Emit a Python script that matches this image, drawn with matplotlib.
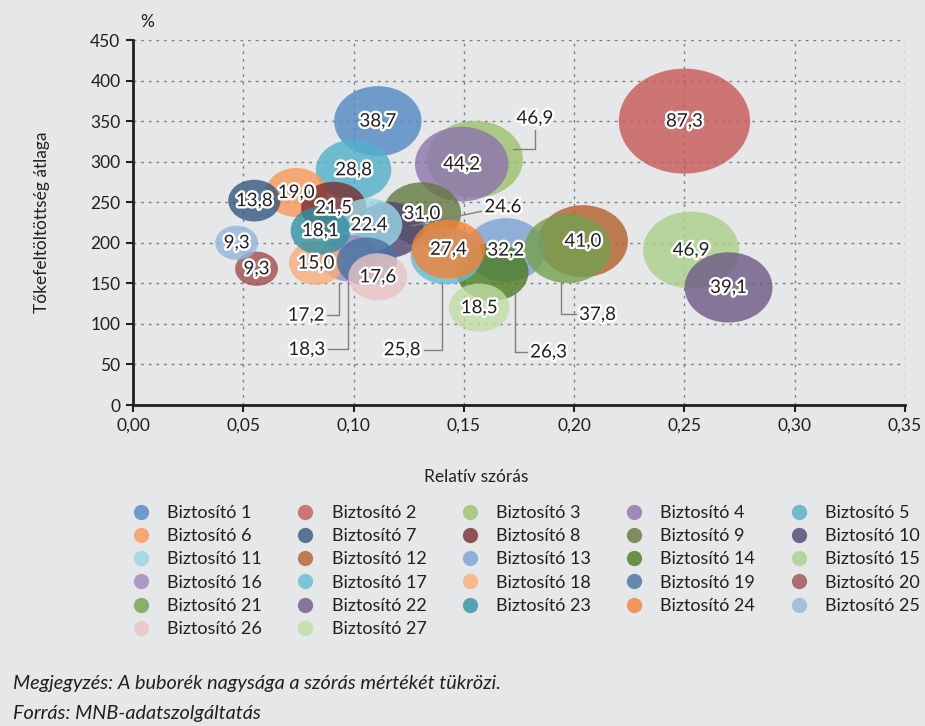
import matplotlib
matplotlib.use("Agg")
import matplotlib.pyplot as plt
import matplotlib.patheffects as pe
import matplotlib.transforms as mtransforms
from matplotlib.colors import to_rgb
from matplotlib.lines import Line2D
from matplotlib.patches import Ellipse
import numpy as np

plt.rcParams["font.family"] = ["Lato", "DejaVu Sans"]

# chart data
insurers = [f"Biztosító {i}" for i in range(1, 28)]
rel_std = [0.111, 0.250, 0.155, 0.149, 0.100, 0.074, 0.055, 0.091, 0.131, 0.116,
           0.107, 0.204, 0.169, 0.163, 0.253, 0.098, 0.142, 0.083, 0.106, 0.056,
           0.197, 0.270, 0.085, 0.143, 0.047, 0.111, 0.157]
capital_avg = [350, 350, 303, 297, 290, 262, 252, 243, 236, 216,
               222, 202, 191, 164, 191, 181, 184, 175, 177, 168,
               193, 145, 215, 192, 200, 158, 120]
spread = [38.7, 87.3, 46.9, 44.2, 28.8, 19.0, 13.8, 21.5, 31.0, 24.6,
          22.4, 41.0, 32.2, 26.3, 46.9, 17.2, 25.8, 15.0, 18.3, 9.3,
          37.8, 39.1, 18.1, 27.4, 9.3, 17.6, 18.5]
bubble_labels = ["38,7", "87,3", "46,9", "44,2", "28,8", "19,0", "13,8", "21,5",
                 "31,0", "24.6", "22.4", "41,0", "32,2", "26,3", "46,9", "17,2",
                 "25,8", "15,0", "18,3", "9,3", "37,8", "39,1", "18,1", "27,4",
                 "9,3", "17,6", "18,5"]
x_ticks = [0.0, 0.05, 0.10, 0.15, 0.20, 0.25, 0.30, 0.35]
y_ticks = [0, 50, 100, 150, 200, 250, 300, 350, 400, 450]

# colours as they look on the grey background (legend swatches)
colors = ["#6F9BCB", "#CD7574", "#A9C985", "#9F8AB9", "#6EBCD0", "#F5A876",
          "#577594", "#8E5253", "#7D8E61", "#6E6589", "#A8DAE6", "#BE7B52",
          "#8FB0D8", "#6B9148", "#B7D59D", "#A99BC4", "#7DC5D6", "#F7B98E",
          "#6889AF", "#AE6C6C", "#8BAE6C", "#857599", "#55A2B0", "#F2955A",
          "#A3BFDE", "#E8CACB", "#C8DFB2"]

BG = "#E6E7E8"
ALPHA = 0.8
TXT = "#231F20"

# label placement for bubbles with leader lines:
# index: (line end offset px, label offset px, connection style)
leaders = {
    2: ((38, 10), (60, 41), "angle,angleA=90,angleB=0,rad=0"),
    9: ((23, 4), (114, 23), "arc3,rad=0"),
    15: ((-10, -25), (-43, -57), "angle,angleA=0,angleB=90,rad=0"),
    18: ((-19, -21), (-60, -88), "angle,angleA=0,angleB=90,rad=0"),
    16: ((-4, -27), (-44, -94), "angle,angleA=0,angleB=90,rad=0"),
    13: ((22, -15), (56, -80), "angle,angleA=0,angleB=90,rad=0"),
    20: ((-7, -34), (30, -66), "angle,angleA=0,angleB=90,rad=0"),
}


def unblend(color, alpha, bg):
    """Base colour that gives `color` when drawn with alpha over bg."""
    c = np.array(to_rgb(color))
    b = np.array(to_rgb(bg))
    return tuple(np.clip((c - (1 - alpha) * b) / alpha, 0, 1))


def main():
    fig = plt.figure(figsize=(9.25, 7.26), dpi=100, facecolor=BG)
    ax = fig.add_axes([0.1438, 0.4421, 0.8346, 0.5028], facecolor=BG)
    ax.set_xlim(0, 0.35)
    ax.set_ylim(0, 450)

    px_x = ax.transData.transform((1, 0))[0] - ax.transData.transform((0, 0))[0]
    px_y = ax.transData.transform((0, 1))[1] - ax.transData.transform((0, 0))[1]
    size_px = 11.24
    stretch = 1.25

    halo = [pe.withStroke(linewidth=3.5, foreground="white")]

    for i, (x, y, v) in enumerate(zip(rel_std, capital_avg, spread)):
        h = size_px * np.sqrt(v)
        ax.add_patch(Ellipse((x, y), stretch * h / px_x, h / px_y,
                             facecolor=unblend(colors[i], ALPHA, BG),
                             alpha=ALPHA, edgecolor="none", zorder=3 + i * 0.01))

    for i, (x, y) in enumerate(zip(rel_std, capital_avg)):
        if i in leaders:
            (tx, ty), (lx, ly), style = leaders[i]
            trans = mtransforms.offset_copy(ax.transData, fig=fig, x=tx, y=ty,
                                            units="dots")
            ax.annotate(bubble_labels[i], xy=(x, y), xycoords=trans,
                        xytext=(lx - tx, ly - ty), textcoords="offset pixels",
                        ha="center", va="center", fontsize=13.5, color=TXT,
                        path_effects=halo, zorder=10,
                        arrowprops=dict(arrowstyle="-", color="#7F7F7F", lw=1,
                                        connectionstyle=style,
                                        shrinkA=0, shrinkB=0))
        else:
            ax.text(x, y, bubble_labels[i], ha="center", va="center",
                    fontsize=13.5, color=TXT, path_effects=halo, zorder=10)

    ax.set_xticks(x_ticks)
    ax.set_xticklabels([f"{t:.2f}".replace(".", ",") for t in x_ticks])
    ax.set_yticks(y_ticks)
    ax.set_yticklabels([str(t) for t in y_ticks])
    ax.tick_params(labelsize=12.5, colors=TXT, direction="out",
                   length=5, width=1.5, pad=4)
    ax.grid(True, color="#7F7F7F", linestyle=(0, (2, 3.5)), lw=1, zorder=0)
    ax.set_axisbelow(True)
    for side in ("top", "right"):
        ax.spines[side].set_visible(False)
    for side in ("left", "bottom"):
        ax.spines[side].set_linewidth(2)
        ax.spines[side].set_color(TXT)

    ax.text(0.01, 1.049, "%", transform=ax.transAxes, fontsize=12.5,
            color=TXT, ha="left", va="center")
    ax.set_ylabel("Tőkefeltöltöttség átlaga", fontsize=12.5, color=TXT)
    ax.yaxis.set_label_coords(-0.1075, 0.5)
    ax.set_xlabel("Relatív szórás", fontsize=12.5, color=TXT)
    ax.xaxis.set_label_coords(0.444, -0.175)

    # legend, reordered so that it reads row by row
    handles = [Line2D([], [], linestyle="none", marker="o", markersize=11,
                      markerfacecolor=unblend(c, ALPHA, BG), alpha=ALPHA,
                      markeredgecolor="none") for c in colors]
    order = [i for col in range(5) for i in range(col, len(insurers), 5)]
    fig.legend([handles[i] for i in order], [insurers[i] for i in order],
               ncol=5, loc="upper left", bbox_to_anchor=(132 / 925, 1 - 505 / 726),
               frameon=False, fontsize=13, handlelength=1.0, handletextpad=0.95,
               columnspacing=1.9, labelspacing=0.4, borderpad=0,
               borderaxespad=0, labelcolor=TXT)

    fig.text(13 / 925, 1 - 683 / 726,
             "Megjegyzés: A buborék nagysága a szórás mértékét tükrözi.",
             fontsize=14.3, style="italic", color=TXT, va="center")
    fig.text(13 / 925, 1 - 713 / 726, "Forrás: MNB-adatszolgáltatás",
             fontsize=14.3, style="italic", color=TXT, va="center")

    fig.savefig("out.png", dpi=100, facecolor=BG)


if __name__ == "__main__":
    main()
